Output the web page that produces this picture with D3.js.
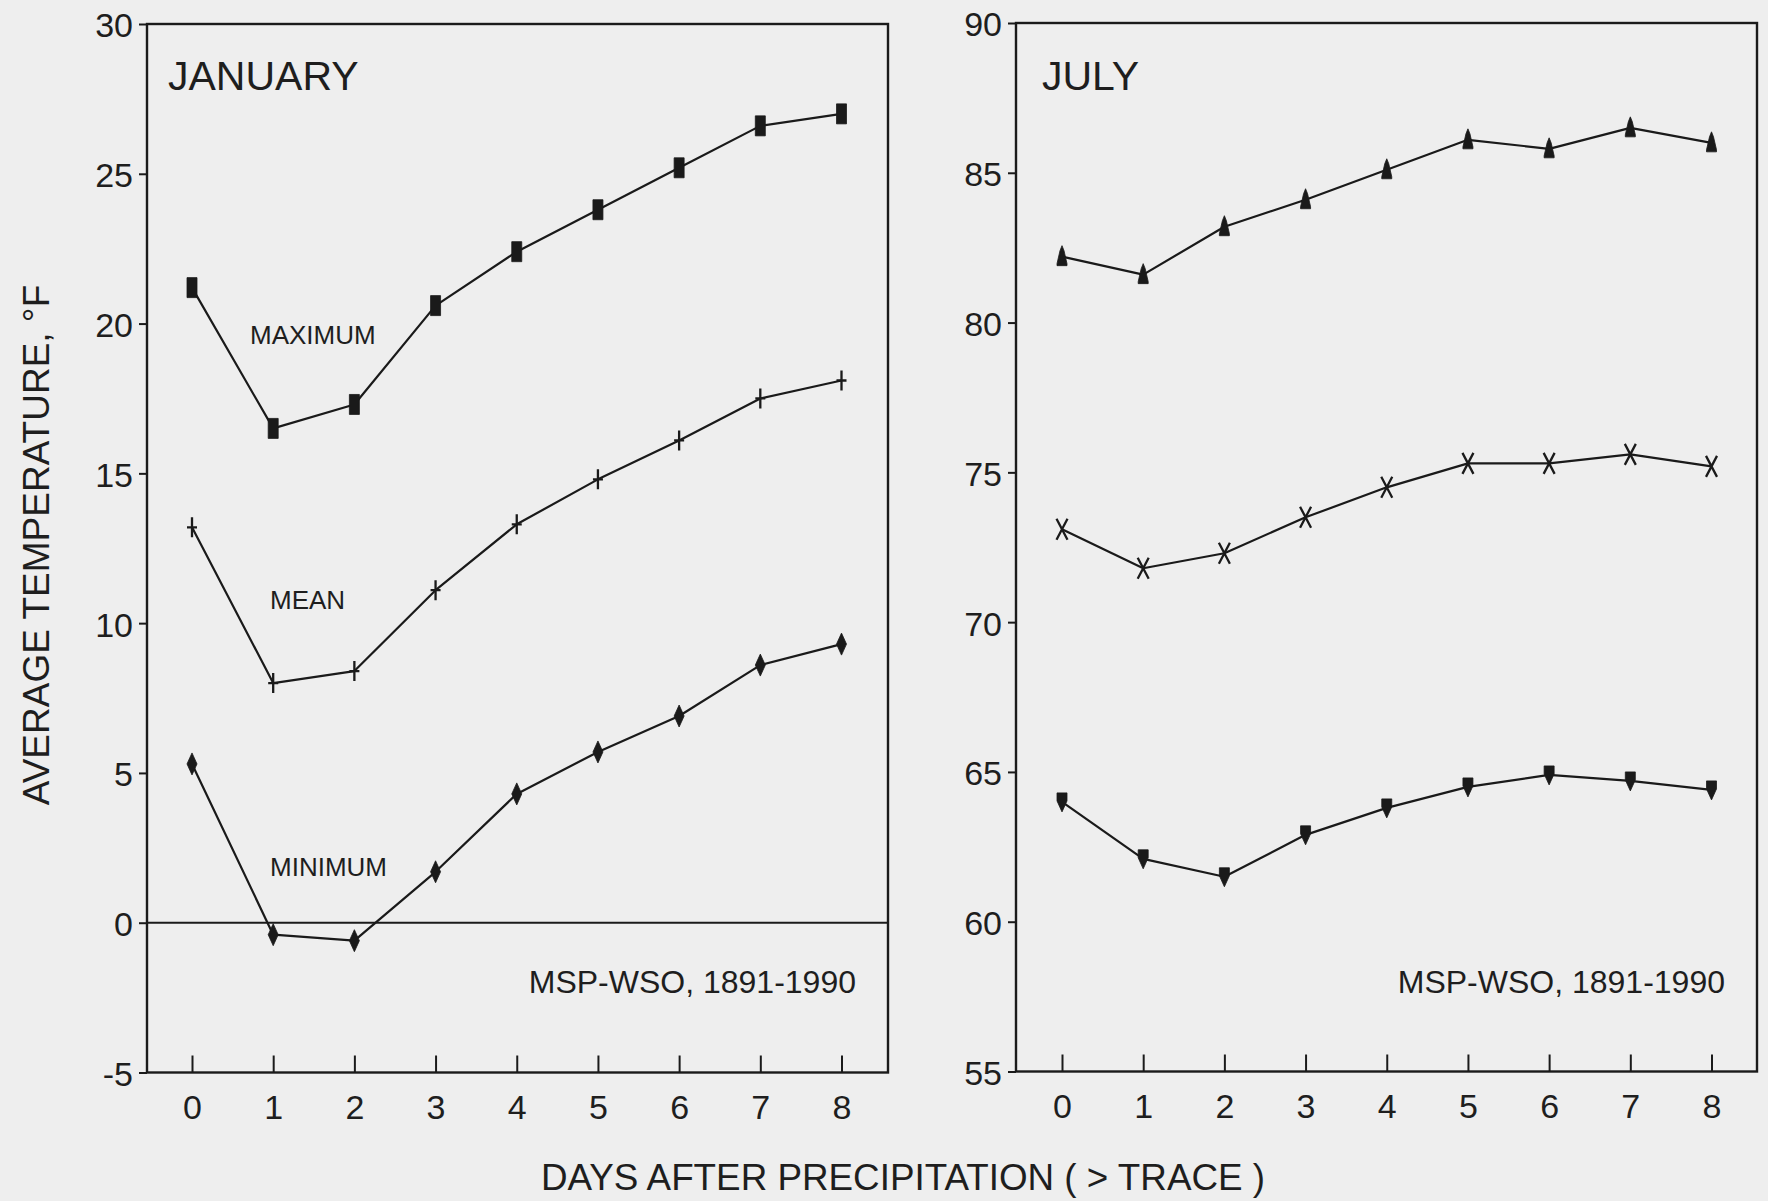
<!DOCTYPE html>
<html>
<head>
<meta charset="utf-8">
<script src="https://cdn.jsdelivr.net/npm/d3@7"></script>
<style>
  html, body { margin: 0; padding: 0; background: #eeeeee; }
  svg { display: block; }
  text { font-family: "Liberation Sans", Arial, sans-serif; fill: #1e1e1e; }
</style>
</head>
<body>
<svg id="chart" width="1768" height="1201"></svg>
<script>
// Days after a precipitation event (> trace)
const days = [0, 1, 2, 3, 4, 5, 6, 7, 8];

// January average temperatures, °F
const janMax  = [21.2, 16.5, 17.3, 20.6, 22.4, 23.8, 25.2, 26.6, 27.0];
const janMean = [13.2, 8.0, 8.4, 11.1, 13.3, 14.8, 16.1, 17.5, 18.1];
const janMin  = [5.3, -0.4, -0.6, 1.7, 4.3, 5.7, 6.9, 8.6, 9.3];

// July average temperatures, °F
const julMax  = [82.2, 81.6, 83.2, 84.1, 85.1, 86.1, 85.8, 86.5, 86.0];
const julMean = [73.1, 71.8, 72.3, 73.5, 74.5, 75.3, 75.3, 75.6, 75.2];
const julMin  = [64.0, 62.1, 61.5, 62.9, 63.8, 64.5, 64.9, 64.7, 64.4];

const janTicks = [30, 25, 20, 15, 10, 5, 0, -5];
const julTicks = [90, 85, 80, 75, 70, 65, 60, 55];
const seriesLabels = ["MAXIMUM", "MEAN", "MINIMUM"];
const source = "MSP-WSO, 1891-1990";

const svg = d3.select("#chart");
const INK = "#1a1a1a";
// Plain hyphen for negative labels, as typeset on the original plot
const fmt = d => String(d);

// Marker glyphs, centred on the data point
const markers = {
  bar:     "M-5,-10H5V10H-5Z",
  plus:    "M0,-10V10M-5,0H5",
  diamond: "M0,-11L5,0L0,11L-5,0Z",
  triUp:   "M0,-11L2,-6L5,7L5,9L-5,9L-5,7L-2,-6Z",
  cross:   "M-5.5,-10.5L5.5,10.5M5.5,-10.5L-5.5,10.5",
  triDown: "M-5,-9L5,-9L5,-1L0,10L-5,-1Z"
};

function panel(opt) {
  const g = svg.append("g");
  const x = d3.scaleLinear().domain([0, 8]).range([opt.x0, opt.x8]);
  const y = d3.scaleLinear().domain(opt.yDomain).range([opt.yTop, opt.yBottom]);
  const left = opt.frameL, right = opt.frameR;

  // Frame
  g.append("rect")
    .attr("x", left).attr("y", opt.yTop)
    .attr("width", right - left).attr("height", opt.yBottom - opt.yTop)
    .attr("fill", "none").attr("stroke", INK).attr("stroke-width", 2.4);

  // Bottom axis: inward ticks and day labels
  const xAxis = d3.axisBottom(x).tickValues(days).tickSize(-17).tickPadding(22)
    .tickFormat(fmt);
  const gx = g.append("g").attr("transform", `translate(0,${opt.yBottom})`).call(xAxis);
  gx.select(".domain").remove();
  gx.selectAll("line").attr("stroke", INK).attr("stroke-width", 2);
  gx.selectAll("text").attr("font-size", 34).attr("fill", "#222").style("font-family", "Liberation Sans, Arial, sans-serif");

  // Left axis: short outward ticks and temperature labels
  const yAxis = d3.axisLeft(y).tickValues(opt.yTicks).tickSize(8).tickPadding(6)
    .tickFormat(fmt);
  const gy = g.append("g").attr("transform", `translate(${left},0)`).call(yAxis);
  gy.select(".domain").remove();
  gy.selectAll("line").attr("stroke", INK).attr("stroke-width", 2);
  gy.selectAll("text").attr("font-size", 34).attr("fill", "#222").attr("dy", "0.38em")
    .style("font-family", "Liberation Sans, Arial, sans-serif");

  // Zero reference line
  if (opt.zeroLine) {
    g.append("line")
      .attr("x1", left).attr("x2", right)
      .attr("y1", y(0)).attr("y2", y(0))
      .attr("stroke", INK).attr("stroke-width", 2);
  }

  const line = d3.line().x((d, i) => x(days[i])).y(d => y(d));

  opt.series.forEach(s => {
    g.append("path").datum(s.values)
      .attr("d", line)
      .attr("fill", "none").attr("stroke", INK).attr("stroke-width", 2.2)
      .attr("stroke-linejoin", "round");
    const filled = s.marker !== "plus" && s.marker !== "cross";
    g.selectAll(null).data(s.values).enter().append("path")
      .attr("transform", (d, i) => `translate(${x(days[i])},${y(d)})`)
      .attr("d", markers[s.marker])
      .attr("fill", filled ? INK : "none")
      .attr("stroke", INK)
      .attr("stroke-width", filled ? 0.8 : 2.3);
  });

  // Month title
  g.append("text").attr("x", opt.titleX).attr("y", 90)
    .attr("font-size", 41).text(opt.title);

  // Station / period note
  g.append("text").attr("x", opt.noteX).attr("y", 993)
    .attr("text-anchor", "end").attr("font-size", 32).text(source);

  return { g, x, y };
}

panel({
  title: "JANUARY", titleX: 168,
  frameL: 147, frameR: 888, x0: 192, x8: 841.5,
  yDomain: [30, -5], yTop: 24, yBottom: 1072.5, yTicks: janTicks,
  zeroLine: true, noteX: 856,
  series: [
    { values: janMax,  marker: "bar" },
    { values: janMean, marker: "plus" },
    { values: janMin,  marker: "diamond" }
  ]
});

panel({
  title: "JULY", titleX: 1042,
  frameL: 1016, frameR: 1757, x0: 1062, x8: 1711.5,
  yDomain: [90, 55], yTop: 23, yBottom: 1071.5, yTicks: julTicks,
  zeroLine: false, noteX: 1725,
  series: [
    { values: julMax,  marker: "triUp" },
    { values: julMean, marker: "cross" },
    { values: julMin,  marker: "triDown" }
  ]
});

// Series names inside the January panel
const labelPos = [[250, 344], [270, 609], [270, 876]];
seriesLabels.forEach((t, i) => {
  svg.append("text")
    .attr("x", labelPos[i][0]).attr("y", labelPos[i][1])
    .attr("font-size", 26).text(t);
});

// Shared axis titles
svg.append("text")
  .attr("transform", "translate(49,545) rotate(-90)")
  .attr("text-anchor", "middle").attr("font-size", 37)
  .text("AVERAGE TEMPERATURE, °F");

svg.append("text")
  .attr("x", 903).attr("y", 1190)
  .attr("text-anchor", "middle").attr("font-size", 36.8)
  .text("DAYS AFTER PRECIPITATION ( > TRACE )");
</script>
</body>
</html>
